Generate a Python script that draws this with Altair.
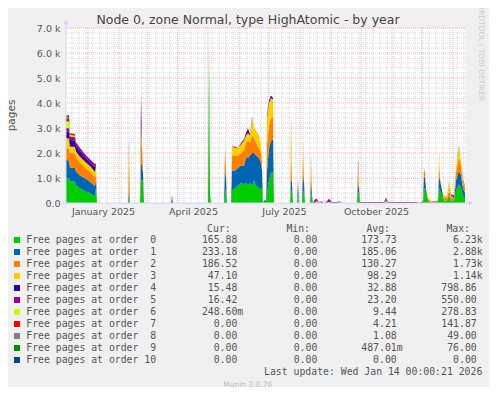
import altair as alt
import pandas as pd
from datetime import date, timedelta

# ---------------- data ----------------
START = date(2024, 12, 10)
END = date(2026, 1, 14)

TITLE = "Node 0, zone Normal, type HighAtomic - by year"
Y_TITLE = "pages"
NAMES = [f"Free pages at order {i:2d}" for i in range(11)]
COLORS = ["#00CC00", "#0066B3", "#FF8000", "#FFCC00", "#330099", "#990099",
          "#CCFF00", "#FF0000", "#808080", "#008F00", "#00487D"]

# day offsets from START
DAYS = [0, 3, 4, 9, 10, 14, 20, 24, 29, 30,
        31, 62, 63, 64, 74, 75, 76, 77, 78, 105,
        106, 107, 142, 143, 144, 145, 158, 159, 160, 161,
        165, 166, 169, 172, 175, 178, 180, 182, 184, 186,
        188, 190, 193, 195, 196, 197, 198, 200, 201, 203,
        205, 207, 208, 224, 225, 226, 227, 231, 232, 233,
        236, 237, 238, 239, 244, 245, 246, 247, 249, 251,
        253, 256, 258, 260, 263, 266, 270, 274, 277, 291,
        292, 293, 294, 300, 310, 318, 320, 322, 335, 350,
        353, 356, 357, 358, 359, 360, 362, 365, 368, 372,
        373, 374, 376, 378, 381, 383, 385, 388, 390, 393,
        395, 397, 399]

ORDER_0 = [1000, 980, 870, 850, 700, 600, 450, 400, 250, 600,
           0, 0, 200, 0, 0, 900, 900, 900, 0, 0,
           0, 0, 0, 6230, 300, 0, 0, 300, 600, 0,
           0, 500, 600, 700, 800, 750, 800, 700, 800, 700,
           900, 700, 600, 600, 500, 0, 30, 30, 400, 900,
           1200, 1250, 0, 0, 500, 500, 0, 0, 300, 0,
           0, 400, 500, 0, 0, 400, 200, 0, 0, 0,
           0, 0, 0, 0, 0, 0, 0, 0, 0, 0,
           450, 400, 0, 0, 0, 0, 0, 0, 0, 0,
           0, 0, 0, 500, 600, 500, 100, 0, 0, 50,
           600, 500, 300, 100, 100, 200, 100, 100, 500, 750,
           600, 300, 166]
ORDER_1 = [730, 720, 540, 550, 560, 500, 520, 450, 420, 400,
           0, 0, 300, 0, 0, 600, 700, 300, 0, 0,
           0, 0, 0, 0, 100, 0, 0, 1100, 400, 0,
           0, 800, 700, 700, 700, 750, 1000, 1100, 1100, 1300,
           1100, 1200, 1200, 1000, 800, 0, 60, 60, 900, 1300,
           1300, 1300, 0, 0, 500, 300, 0, 0, 500, 0,
           0, 800, 300, 0, 0, 500, 100, 0, 0, 0,
           0, 0, 0, 0, 0, 0, 0, 0, 0, 0,
           300, 200, 0, 0, 0, 0, 0, 0, 0, 0,
           0, 0, 0, 600, 400, 100, 0, 0, 0, 0,
           500, 400, 200, 0, 0, 100, 0, 0, 400, 550,
           500, 300, 233]
ORDER_2 = [470, 480, 590, 580, 560, 500, 420, 410, 350, 300,
           0, 0, 900, 0, 0, 900, 600, 100, 0, 0,
           0, 0, 0, 0, 0, 0, 0, 800, 300, 0,
           0, 600, 600, 500, 500, 600, 600, 700, 500, 700,
           600, 500, 400, 400, 300, 0, 30, 30, 1000, 900,
           900, 850, 0, 0, 1060, 0, 0, 0, 200, 0,
           0, 700, 100, 0, 0, 500, 0, 0, 0, 50,
           0, 0, 0, 0, 0, 0, 0, 0, 0, 0,
           400, 0, 0, 0, 0, 0, 50, 0, 0, 0,
           0, 0, 0, 300, 200, 0, 50, 50, 30, 50,
           400, 100, 0, 100, 100, 200, 100, 100, 300, 550,
           400, 200, 187]
ORDER_3 = [400, 400, 260, 260, 240, 250, 230, 220, 230, 200,
           0, 0, 900, 0, 0, 700, 0, 0, 0, 0,
           0, 0, 0, 0, 0, 0, 0, 0, 0, 0,
           0, 400, 300, 300, 350, 400, 300, 300, 300, 700,
           400, 500, 500, 300, 200, 0, 0, 0, 1100, 900,
           800, 750, 0, 0, 1140, 0, 0, 0, 0, 0,
           0, 600, 0, 0, 0, 400, 0, 0, 0, 50,
           0, 30, 0, 0, 50, 0, 0, 30, 0, 0,
           400, 0, 0, 0, 0, 0, 50, 0, 0, 0,
           0, 30, 0, 0, 0, 0, 50, 50, 0, 0,
           500, 0, 0, 100, 100, 400, 100, 0, 200, 450,
           200, 100, 47]
ORDER_4 = [270, 270, 270, 260, 240, 230, 170, 170, 180, 100,
           0, 0, 200, 0, 0, 800, 0, 0, 0, 0,
           100, 0, 0, 0, 0, 0, 0, 0, 0, 0,
           0, 0, 0, 0, 50, 50, 100, 150, 50, 50,
           0, 0, 0, 0, 0, 0, 0, 0, 100, 100,
           100, 50, 0, 0, 200, 0, 0, 0, 0, 0,
           0, 0, 0, 0, 0, 100, 0, 0, 50, 0,
           0, 0, 0, 0, 40, 0, 0, 0, 0, 0,
           200, 0, 0, 0, 0, 0, 50, 0, 0, 0,
           0, 0, 0, 0, 0, 0, 0, 0, 0, 0,
           50, 0, 0, 0, 0, 0, 50, 50, 0, 30,
           0, 30, 15]
ORDER_5 = [130, 140, 140, 130, 130, 120, 110, 100, 120, 0,
           0, 0, 100, 0, 0, 550, 0, 0, 0, 0,
           100, 0, 0, 0, 0, 0, 0, 0, 0, 0,
           0, 0, 50, 0, 0, 0, 0, 50, 0, 0,
           0, 0, 0, 0, 0, 0, 0, 0, 0, 0,
           0, 0, 0, 0, 0, 0, 0, 0, 0, 0,
           0, 0, 0, 0, 0, 0, 0, 0, 100, 60,
           30, 40, 0, 30, 80, 30, 40, 30, 0, 0,
           0, 0, 40, 40, 40, 40, 50, 40, 40, 40,
           0, 30, 50, 0, 0, 0, 0, 0, 30, 0,
           0, 0, 0, 0, 0, 0, 0, 50, 0, 0,
           0, 30, 16]
ORDER_6 = [270, 260, 60, 60, 20] + [0] * 108
ORDER_7 = [120, 142, 50, 60] + [0] * 109
ORDER_8 = [40, 49, 10, 10] + [0] * 16 + [49] + [0] * 59 + [49] + [0] * 5 + [30] + [0] * 26
ORDER_9 = [60, 76, 10, 10] + [0] * 16 + [60] + [0] * 59 + [76] + [0] * 32
ORDER_10 = [0] * 113

SERIES = [ORDER_0, ORDER_1, ORDER_2, ORDER_3, ORDER_4, ORDER_5,
          ORDER_6, ORDER_7, ORDER_8, ORDER_9, ORDER_10]
for s in SERIES:
    assert len(s) == len(DAYS)

CUR = ["165.88", "233.18", "186.52", "47.10", "15.48", "16.42", "248.60m", "0.00", "0.00", "0.00", "0.00"]
MIN = ["0.00"] * 11
AVG = ["173.73", "185.06", "130.27", "98.29", "32.88", "23.20", "9.44", "4.21", "1.08", "487.01m", "0.00"]
MAX = ["6.23k", "2.88k", "1.73k", "1.14k", "798.86", "550.00", "278.83", "141.87", "49.00", "76.00", "0.00"]
HEADERS = ["Cur:", "Min:", "Avg:", "Max:"]

Y_TICKS = [0, 1000, 2000, 3000, 4000, 5000, 6000, 7000]
X_LABEL_DAYS = [date(2025, 1, 16), date(2025, 4, 16), date(2025, 7, 16), date(2025, 10, 16)]
LAST_UPDATE = "Last update: Wed Jan 14 00:00:21 2026"
FOOTER = "Munin 2.0.76"
WATERMARK = "RRDTOOL / TOBI OETIKER"


def iso(d):
    return d.isoformat() + "T00:00:00Z"


rows = []
for k, s in enumerate(SERIES):
    for d, v in zip(DAYS, s):
        rows.append({"date": iso(START + timedelta(days=d)), "v": v, "name": NAMES[k], "k": k})
df = pd.DataFrame(rows)

# grid positions (calendar derived)
mondays = []
d = START + timedelta(days=(7 - START.weekday()) % 7)
while d <= END:
    mondays.append(iso(d))
    d += timedelta(days=7)
months = []
y, m = 2025, 1
while date(y, m, 1) <= END:
    months.append(iso(date(y, m, 1)))
    m += 1
    if m == 13:
        y, m = y + 1, 1
minor_h = [v for v in range(200, 7001, 200) if v % 1000]
major_h = list(range(1000, 7001, 1000))

FONT = "DejaVu Sans"
MONO = "DejaVu Sans Mono"
TXT = "#555555"
AXISC = "#CFD6F8"

XS = alt.Scale(type="utc", domain=[alt.DateTime(year=2024, month=12, date=10, utc=True),
                                   alt.DateTime(year=2026, month=1, date=14, utc=True)])
YS = alt.Scale(domain=[0, 7000], nice=False, zero=True)

XAX = alt.Axis(
    values=[alt.DateTime(year=d.year, month=d.month, date=d.day, utc=True) for d in X_LABEL_DAYS],
    format="%B %Y", grid=False, ticks=False, domain=False, title=None,
    labelFont=FONT, labelFontSize=9.5, labelColor=TXT, labelPadding=3,
    labelOverlap=False, labelFlush=False, labelBound=False)
YAX = alt.Axis(
    values=Y_TICKS,
    labelExpr="datum.value == 0 ? '0.0' : format(datum.value / 1000, '.1f') + ' k'",
    grid=False, ticks=False, domain=False, title=None,
    labelFont=FONT, labelFontSize=9.5, labelColor=TXT, labelPadding=6)

one = pd.DataFrame({"a": [0]})

g_minor_v = alt.Chart(pd.DataFrame({"date": mondays})).mark_rule(
    color="#D4D4D4", strokeDash=[1, 1], strokeWidth=1).encode(
    x=alt.X("date:T", scale=XS, axis=XAX))
g_minor_h = alt.Chart(pd.DataFrame({"g": minor_h})).mark_rule(
    color="#D4D4D4", strokeDash=[1, 1], strokeWidth=1).encode(
    y=alt.Y("g:Q", scale=YS, axis=YAX))
g_major_v = alt.Chart(pd.DataFrame({"date": months})).mark_rule(
    color="#EDB0B0", strokeDash=[1, 1], strokeWidth=1).encode(
    x=alt.X("date:T", scale=XS, axis=XAX))
g_major_h = alt.Chart(pd.DataFrame({"g": major_h})).mark_rule(
    color="#EDB0B0", strokeDash=[1, 1], strokeWidth=1).encode(
    y=alt.Y("g:Q", scale=YS, axis=YAX))

area = alt.Chart(df).mark_area(interpolate="linear", opacity=1).encode(
    x=alt.X("date:T", scale=XS, axis=XAX),
    y=alt.Y("v:Q", stack="zero", scale=YS, axis=YAX),
    color=alt.Color("name:N", scale=alt.Scale(domain=NAMES, range=COLORS), legend=None),
    order=alt.Order("k:Q", sort="ascending"),
)

y_axis_line = alt.Chart(one).mark_rule(color=AXISC, strokeWidth=1).encode(
    x=alt.value(0), y=alt.value(179), y2=alt.value(-4))
x_axis_line = alt.Chart(one).mark_rule(color=AXISC, strokeWidth=1).encode(
    y=alt.value(175), x=alt.value(-4), x2=alt.value(403))
arrow_up = alt.Chart(one).mark_point(shape="triangle-up", filled=True, size=28,
                                     color=AXISC, opacity=1).encode(
    x=alt.value(0), y=alt.value(-6))
arrow_right = alt.Chart(one).mark_point(shape="triangle-right", filled=True, size=28,
                                        color=AXISC, opacity=1).encode(
    x=alt.value(405), y=alt.value(175))

title = alt.Chart(pd.DataFrame({"t": [TITLE]})).mark_text(
    font=FONT, fontSize=12.5, color="#444444", align="center", baseline="alphabetic").encode(
    text="t:N", x=alt.value(182), y=alt.value(-4))
y_title = alt.Chart(pd.DataFrame({"t": [Y_TITLE]})).mark_text(
    font=FONT, fontSize=10.5, color=TXT, align="center", baseline="middle", angle=270).encode(
    text="t:N", x=alt.value(-54.5), y=alt.value(87.5))
watermark = alt.Chart(pd.DataFrame({"t": [WATERMARK]})).mark_text(
    font=FONT, fontSize=7.5, color="#CCCCCC", align="center", baseline="middle", angle=90).encode(
    text="t:N", x=alt.value(415), y=alt.value(25))


def split(s):
    return (s[:-1], s[-1]) if s[-1] in "mk" else (s, "")


leg_rows = []
for k in range(11):
    r = {"k": k, "name": NAMES[k], "label": NAMES[k].replace(" ", "\u00a0")}
    for col, arr in zip(["cur", "min", "avg", "max"], [CUR, MIN, AVG, MAX]):
        n, u = split(arr[k])
        r[col + "_n"] = n
        r[col + "_u"] = u
    leg_rows.append(r)
leg = pd.DataFrame(leg_rows)

base_leg = alt.Chart(leg).transform_calculate(yb="215.3 + 12 * datum.k")
YB = alt.Y("yb:Q", scale=None, axis=None)

squares = alt.Chart(leg).transform_calculate(yc="212 + 12 * datum.k").mark_square(
    size=36, filled=True, opacity=1).encode(
    x=alt.value(-49), y=alt.Y("yc:Q", scale=None, axis=None),
    color=alt.Color("name:N", scale=alt.Scale(domain=NAMES, range=COLORS), legend=None))

labels = base_leg.mark_text(font=MONO, fontSize=9.8, color=TXT, align="left",
                            baseline="alphabetic").encode(
    text="label:N", x=alt.value(-39.7), y=YB)

col_x = {"cur": 171.3, "min": 251.3, "avg": 330.7, "max": 410.7}
num_layers = []
for col, xr in col_x.items():
    num_layers.append(base_leg.mark_text(font=MONO, fontSize=9.8, color=TXT, align="right",
                                         baseline="alphabetic").encode(
        text=f"{col}_n:N", x=alt.value(xr), y=YB))
    num_layers.append(base_leg.mark_text(font=MONO, fontSize=9.8, color=TXT, align="left",
                                         baseline="alphabetic").encode(
        text=f"{col}_u:N", x=alt.value(xr), y=YB))

head_x = [164.7, 244, 324, 404]
head_layers = []
for h, xr in zip(HEADERS, head_x):
    head_layers.append(alt.Chart(pd.DataFrame({"t": [h]})).mark_text(
        font=MONO, fontSize=9.8, color=TXT, align="right", baseline="alphabetic").encode(
        text="t:N", x=alt.value(xr), y=alt.value(203.7)))

last_upd = alt.Chart(pd.DataFrame({"t": [LAST_UPDATE]})).mark_text(
    font=MONO, fontSize=9.8, color=TXT, align="right", baseline="alphabetic").encode(
    text="t:N", x=alt.value(416.3), y=alt.value(347.3))
footer = alt.Chart(pd.DataFrame({"t": [FOOTER]})).mark_text(
    font=FONT, fontSize=7.5, color="#BBBBBB", align="center", baseline="alphabetic").encode(
    text="t:N", x=alt.value(181.7), y=alt.value(358.5))

chart = alt.layer(
    g_minor_v, g_minor_h, g_major_v, g_major_h, area,
    y_axis_line, x_axis_line, arrow_up, arrow_right,
    title, y_title, watermark, squares, labels, *num_layers, *head_layers, last_upd, footer,
).properties(
    width=400, height=175,
    autosize=alt.AutoSizeParams(type="none"),
    padding={"left": 58, "top": 20, "right": 23, "bottom": 184},
    background="#F0F0F0",
).configure_view(fill="white", stroke=None)

chart.save("out.html", embed_options={"renderer": "svg", "actions": False})
